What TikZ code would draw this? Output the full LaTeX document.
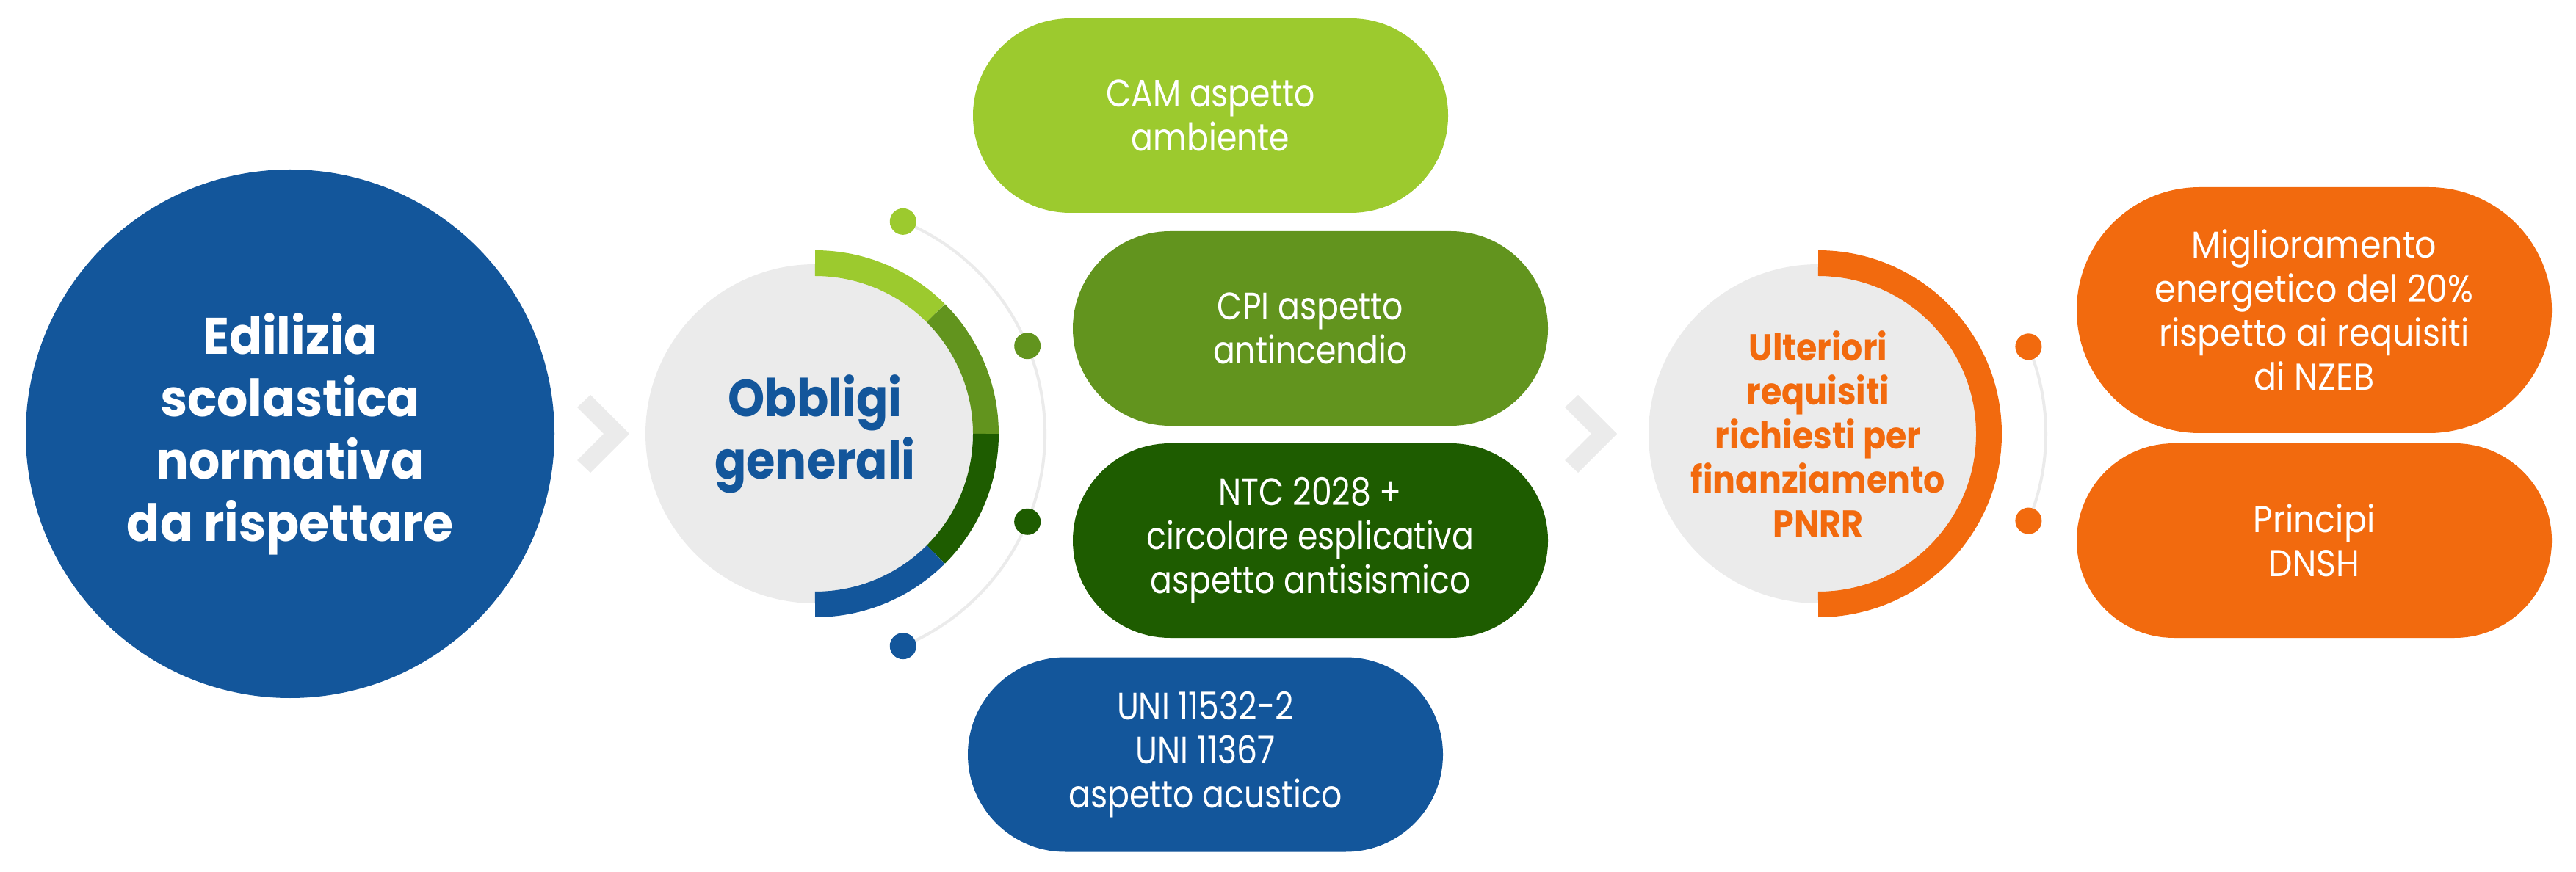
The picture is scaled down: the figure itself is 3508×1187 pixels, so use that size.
\documentclass[tikz,border=0pt]{standalone}
\usepackage{fontspec}
\setmainfont{Poppins}
\newfontfamily\condfont[FakeStretch=0.85]{Poppins}
\newfontfamily\widefont[FakeStretch=0.9]{Poppins}
\newfontfamily\boldfont[FakeStretch=0.9]{Poppins}
\newfontfamily\bigfont[FakeStretch=0.95]{Poppins}
\definecolor{cblue}{RGB}{19,86,155}
\definecolor{clgreen}{RGB}{156,202,46}
\definecolor{cmgreen}{RGB}{98,148,30}
\definecolor{cdgreen}{RGB}{30,92,0}
\definecolor{corange}{RGB}{242,106,14}
\definecolor{cgray}{RGB}{235,235,235}
\tikzset{
  bigcirc/.style={circle, fill=cblue, minimum size=720pt, inner sep=0pt, text=white, align=center,
    font=\bigfont\bfseries\fontsize{70}{85}\selectfont},
  graycirc/.style={circle, fill=cgray, minimum size=462pt, inner sep=0pt, align=center},
  pill/.style={rectangle, rounded corners=132.5pt, minimum width=647pt, minimum height=265pt,
    inner sep=0pt, text=white, align=center, font=\condfont\fontsize{52}{60}\selectfont},
  opill/.style={pill, fill=corange, font=\widefont\fontsize{51}{60}\selectfont},
  ring/.style={line width=35pt},
  thinarc/.style={draw=cgray, line width=4pt},
  dot/.style={circle, minimum size=36pt, inner sep=0pt},
  chev/.style={fill=cgray}
}
\begin{document}
\begin{tikzpicture}[x=1pt,y=1pt]
\useasboundingbox (0,0) rectangle (3508,1187);

% left big circle
\node[bigcirc] (big) at (395,596) {Edilizia\\scolastica\\normativa\\da rispettare};

% chevron 1
\coordinate (c1) at (857,596);
\fill[chev] ([shift={(-53,53)}]c1) -- (c1) -- ([shift={(-53,-53)}]c1) -- ([shift={(-71,-36)}]c1)
  -- ([shift={(-35,0)}]c1) -- ([shift={(-71,36)}]c1) -- cycle;

% Obbligi generali
\node[graycirc, text=cblue, font=\boldfont\bfseries\fontsize{71}{85}\selectfont] (obb) at (1110,596) {Obbligi\\generali};
\draw[ring, clgreen] ([shift={(90:232.5)}]obb.center) arc[start angle=90, end angle=45, radius=232.5];
\draw[ring, cmgreen] ([shift={(45:232.5)}]obb.center) arc[start angle=45, end angle=0, radius=232.5];
\draw[ring, cdgreen] ([shift={(0:232.5)}]obb.center) arc[start angle=0, end angle=-45, radius=232.5];
\draw[ring, cblue] ([shift={(-45:232.5)}]obb.center) arc[start angle=-45, end angle=-90, radius=232.5];

\coordinate (p1) at ([shift={(67.5:313)}]obb.center);
\coordinate (p2) at ([shift={(22.5:313)}]obb.center);
\coordinate (p3) at ([shift={(-22.5:313)}]obb.center);
\coordinate (p4) at ([shift={(-67.5:313)}]obb.center);
\draw[thinarc] (p1) arc[start angle=67.5, end angle=-67.5, radius=313];
\node[dot, fill=clgreen] (d1) at (p1) {};
\node[dot, fill=cmgreen] (d2) at (p2) {};
\node[dot, fill=cdgreen] (d3) at (p3) {};
\node[dot, fill=cblue] (d4) at (p4) {};

% green / blue pills
\node[pill, fill=clgreen] (cam) at (1648.5,1029.5) {CAM aspetto\\ambiente};
\node[pill, fill=cmgreen] (cpi) at (1784.5,739.5) {CPI aspetto\\antincendio};
\node[pill, fill=cdgreen] (ntc) at (1784.5,450.5) {NTC 2028 +\\circolare esplicativa\\aspetto antisismico};
\node[pill, fill=cblue] (uni) at (1641.5,159) {UNI 11532-2\\UNI 11367\\aspetto acustico};

% chevron 2
\coordinate (c2) at (2202,596);
\fill[chev] ([shift={(-53,53)}]c2) -- (c2) -- ([shift={(-53,-53)}]c2) -- ([shift={(-71,-36)}]c2)
  -- ([shift={(-35,0)}]c2) -- ([shift={(-71,36)}]c2) -- cycle;

% PNRR circle
\node[graycirc, text=corange, font=\boldfont\bfseries\fontsize{51}{60}\selectfont] (pnrr) at (2476,596)
  {Ulteriori\\requisiti\\richiesti per\\finanziamento\\PNRR};
\draw[ring, corange] ([shift={(90:232.5)}]pnrr.center) arc[start angle=90, end angle=-90, radius=232.5];
\coordinate (q1) at ([shift={(22.5:310)}]pnrr.center);
\coordinate (q2) at ([shift={(-22.5:310)}]pnrr.center);
\draw[thinarc] (q1) arc[start angle=22.5, end angle=-22.5, radius=310];
\node[dot, fill=corange] (e1) at (q1) {};
\node[dot, fill=corange] (e2) at (q2) {};

% orange pills
\node[opill, minimum height=335pt, rounded corners=167.5pt] (mig) at (3151.5,764.5)
  {Miglioramento\\energetico del 20\%\\rispetto ai requisiti\\di NZEB};
\node[opill] (dnsh) at (3151.5,450.5) {Principi\\DNSH};
\end{tikzpicture}
\end{document}
